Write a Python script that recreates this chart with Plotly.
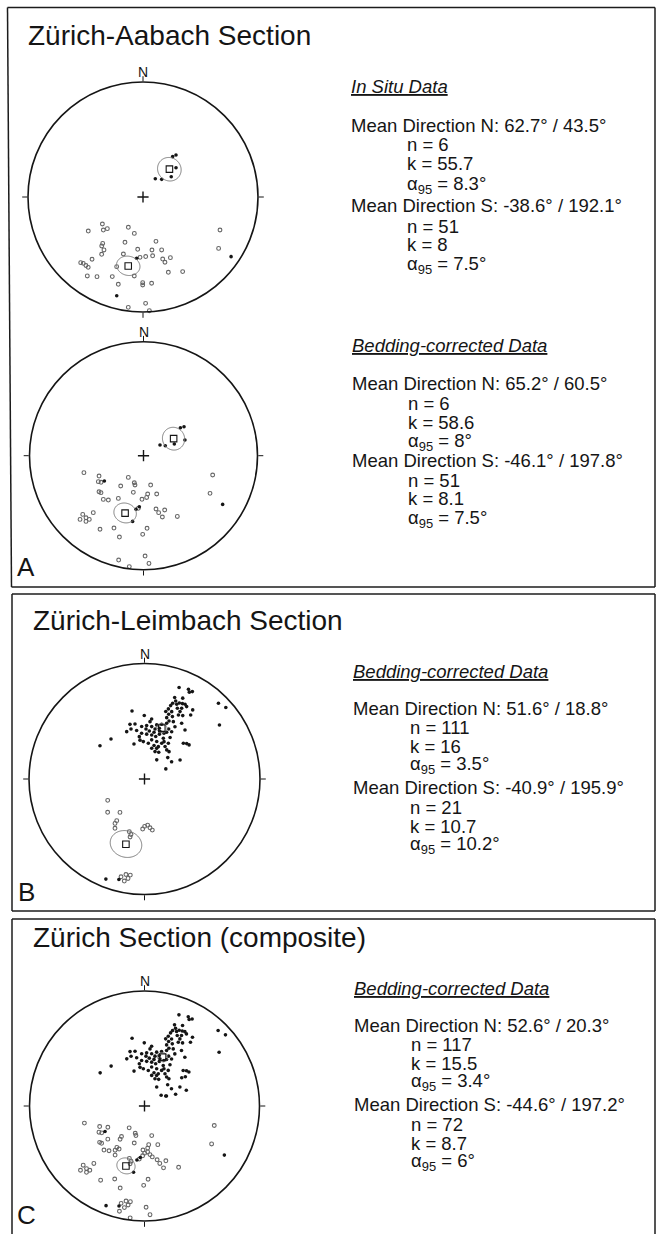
import numpy as np
import plotly.graph_objects as go

W, H = 656, 1234
FONT = "Liberation Sans"
INK = "#151515"

# ---------------- data (declination / inclination in degrees) ----------------
# Panel A, Zürich-Aabach, in situ (first 6 = N group)
a1_dec = [36.3, 38.2, 48.4, 33.9, 46.6, 54.3,
          236.4, 238.1, 230.2, 228.4, 205.8, 193.4, 201.7, 163.7, 221.0, 220.1,
          216.4, 215.8, 199.0, 185.8, 170.4, 160.6, 185.9, 182.8, 177.4, 170.7,
          162.4, 161.4, 155.7, 219.3, 223.5, 222.0, 219.8, 217.9, 200.7, 215.2,
          210.0, 201.1, 186.3, 161.4, 152.0, 195.8, 180.2, 180.2, 174.3, 113.2,
          124.2, 124.1, 194.9, 187.6, 178.6, 176.8]
a1_inc = [54.1, 51.7, 58.5, 74.4, 71.8, 65.3,
          -55.1, -43.3, -53.0, -55.9, -66.1, -63.4, -55.1, -57.0, -45.6, -43.6,
          -42.3, -38.5, -46.5, -52.3, -51.4, -49.6, 45.5, -46.4, -47.0, -47.0,
          -42.8, -39.9, -41.7, -30.7, -22.4, -23.4, -23.5, -23.5, -35.5, -17.1,
          -21.1, -26.7, -31.5, -31.5, -27.4, -22.2, -26.4, -24.5, -25.6, -28.0,
          -21.6, 8.3, 12.2, -3.6, -8.3, -1.1]

# Panel A, Zürich-Aabach, bedding-corrected
a2_dec = [52.8, 54.4, 69.3, 57.1, 65.4, 69.3,
          254.1, 245.4, 240.1, 237.9, 237.1, 215.0, 217.0, 198.8, 196.2, 166.3,
          231.0, 229.0, 195.5, 161.0, 173.8, 175.7, 222.6, 218.4, 210.5, 182.0,
          184.7, 185.6, 188.0, 166.8, 165.1, 158.7, 162.9, 150.9, 221.4, 226.0,
          222.8, 224.9, 220.4, 221.2, 189.4, 210.6, 202.2, 196.5, 177.2, 180.6,
          193.4, 179.1, 177.1, 187.3, 105.6, 119.5, 121.6]
a2_inc = [56.6, 54.0, 58.1, 76.0, 72.9, 66.4,
          -44.8, -54.7, -52.3, -53.8, 56.4, -71.1, -62.8, -69.6, -68.2, -68.4,
          -48.4, -49.1, -62.7, -60.9, -62.3, -59.9, -46.8, -48.9, -54.2, -58.6,
          53.0, -51.7, 50.8, -50.3, -47.1, -47.6, -43.1, -38.9, -33.8, -26.8,
          -26.7, -22.2, -27.5, -24.4, 41.2, -26.0, -32.0, -26.5, -36.4, -31.6,
          -6.6, -13.0, -6.0, -2.2, -37.1, -33.4, 19.6]

# Panel B, Zürich-Leimbach, bedding-corrected
b_dec = [20.7, 26.1, 27.3, 28.7, 20.3, 21.8, 20.4, 23.3, 24.6, 26.7, 28.5, 19.6,
         18.8, 24.9, 27.7, 27.8, 34.9, 349.6, 17.5, 20.5, 35.8, 31.1, 359.8, 19.9,
         24.1, 6.8, 345.1, 350.2, 2.3, 7.8, 12.7, 21.7, 22.9, 33.7, 344.9, 350.8,
         1.7, 5.7, 11.9, 16.3, 25.8, 39.6, 25.4, 356.4, 2.8, 9.3, 14.8, 18.4,
         24.8, 31.7, 320.1, 343.3, 353.4, 358.2, 10.4, 18.1, 6.1, 306.8, 15.9, 23.2,
         32.4, 33.7, 47.4, 50.0, 52.6, 21.0, 28.0, 37.4, 41.9, 32.6, 57.5, 61.8,
         64.7, 44.3, 48.7, 54.2, 18.1, 23.1, 17.4, 11.5, 29.9, 26.7, 30.2, 27.9,
         22.0, 30.2, 25.3, 21.6, 25.7, 13.2, 353.0, 339.4, 356.9, 5.5, 27.6, 47.4,
         239.9, 227.9, 216.3, 213.7, 213.6, 182.1, 179.8, 176.1, 173.6, 171.3, 193.7,
         194.0, 201.1, 194.3, 193.5, 191.0, 188.4, 189.4, 191.2, 210.9, 196.1]
b_inc = [16.4, 14.6, 16.5, 14.8, 25.7, 28.1, 30.7, 30.2, 28.4, 27.8, 27.3, 33.0,
         36.1, 32.9, 31.4, 34.4, 27.9, 39.9, 38.7, 39.9, 32.2, 36.1, 44.3, 42.9,
         40.5, 46.6, 49.5, 50.0, 51.8, 52.2, 50.3, 46.9, 44.6, 41.6, 53.0, 55.0,
         54.3, 55.6, 53.5, 52.2, 50.2, 44.2, 53.1, 57.4, 58.1, 58.3, 58.8, 56.4,
         58.1, 55.3, 52.7, 64.1, 62.3, 63.5, 61.8, 62.1, 64.6, 50.2, 65.4, 65.1,
         62.8, 59.5, 52.3, 50.6, 49.8, 69.3, 68.6, 64.1, 64.0, 74.0, 67.3, 61.4,
         73.4, 9.2, 7.0, 21.1, 54.5, 54.6, 48.9, 56.0, 51.0, 43.7, 46.5, 37.3,
         37.2, 28.3, 23.6, 66.7, 61.9, 67.7, 59.7, 53.9, 52.5, 48.7, 60.1, 67.7,
         -59.8, -54.6, -60.6, -54.3, -51.9, -54.3, -56.3, -57.1, -55.0, -53.1, -49.1,
         -47.1, 7.9, 11.2, -14.0, -16.9, -17.0, -13.8, -10.9, -48.8, -50.8]

# Panel C, composite = Aabach (bedding-corrected) + Leimbach
c_dec = a2_dec + b_dec
c_inc = a2_inc + b_inc

# statistics (order: A in situ, A bedding, B, C)
mean_n_inc = [62.7, 65.2, 51.6, 52.6]
mean_n_dec = [43.5, 60.5, 18.8, 20.3]
n_n = [6, 6, 111, 117]
k_n = ["55.7", "58.6", "16", "15.5"]
a95_n = [8.3, 8, 3.5, 3.4]
mean_s_inc = [-38.6, -46.1, -40.9, -44.6]
mean_s_dec = [192.1, 197.8, 195.9, 197.2]
n_s = [51, 51, 21, 72]
k_s = ["8", "8.1", "10.7", "8.7"]
a95_s = [7.5, 7.5, 10.2, 6]
headers = ["In Situ Data", "Bedding-corrected Data", "Bedding-corrected Data", "Bedding-corrected Data"]
titles = ["Zürich-Aabach Section", "Zürich-Leimbach Section", "Zürich Section (composite)"]
panel_letters = ["A", "B", "C"]

# ---------------- layout geometry (pixels) ----------------
nets = [  # centre x, centre y, radius
    (143.0, 197.0, 115.0),
    (143.5, 455.7, 114.0),
    (144.5, 779.0, 115.5),
    (144.5, 1106.0, 115.0),
]
net_data = [(a1_dec, a1_inc), (a2_dec, a2_inc), (b_dec, b_inc), (c_dec, c_inc)]
text_x = [351, 352, 353, 354]
indent_x = [407, 408, 410, 411]
header_base = [92.7, 351.7, 677.3, 994.3]
line_base = [
    [131.7, 151.0, 170.0, 189.3, 211.7, 232.3, 250.7, 270.0],
    [390.0, 409.3, 428.3, 446.7, 466.7, 486.7, 505.0, 523.3],
    [715.0, 733.3, 752.7, 770.0, 794.0, 813.3, 832.7, 850.0],
    [1032.0, 1050.3, 1069.7, 1087.0, 1111.0, 1130.3, 1149.7, 1167.0],
]
title_pos = [(28, 45), (33, 630), (33, 947)]
letter_pos = [(16.5, 576), (18, 900.5), (17, 1224)]


def px_x(x):
    return x / W


def px_y(y):
    return 1 - y / H


def ea(inc):
    inc = np.abs(np.asarray(inc, float))
    return np.sqrt(2) * np.sin(np.radians(90 - inc) / 2)


def small_circle(dec, inc, a95, n=121):
    d, i = np.radians(dec), np.radians(inc)
    m = np.array([np.cos(i) * np.cos(d), np.cos(i) * np.sin(d), np.sin(i)])
    u = np.array([-np.sin(i) * np.cos(d), -np.sin(i) * np.sin(d), np.cos(i)])
    v = np.cross(m, u)
    t = np.linspace(0, 2 * np.pi, n)
    a = np.radians(a95)
    p = np.cos(a) * m[:, None] + np.sin(a) * (np.cos(t) * u[:, None] + np.sin(t) * v[:, None])
    decs = np.degrees(np.arctan2(p[1], p[0])) % 360
    incs = np.degrees(np.arcsin(np.clip(p[2], -1, 1)))
    return decs, incs


def fmt(v):
    return f"{v:g}"


fig = go.Figure()
layout_polars = {}
annotations = []
FS = 18.5


def add_text(x, baseline, text, size, xanchor="left"):
    annotations.append(dict(
        x=px_x(x), y=px_y(baseline - 0.905 * size), xref="paper", yref="paper",
        xanchor=xanchor, yanchor="top", text=text, showarrow=False, borderpad=0, borderwidth=0,
        font=dict(family=FONT, size=size, color=INK), align="left"))


for idx, ((cx, cy, R), (decs, incs)) in enumerate(zip(nets, net_data)):
    name = "polar" if idx == 0 else f"polar{idx + 1}"
    decs = np.asarray(decs, float)
    incs = np.asarray(incs, float)
    down = incs >= 0
    # upper hemisphere: open circles
    fig.add_trace(go.Scatterpolar(
        r=ea(incs[~down]), theta=decs[~down], mode="markers", subplot=name,
        marker=dict(symbol="circle-open", size=3.8, color="#666666", line=dict(width=1.1, color="#666666")),
        showlegend=False, hoverinfo="skip"))
    # lower hemisphere: filled dots
    fig.add_trace(go.Scatterpolar(
        r=ea(incs[down]), theta=decs[down], mode="markers", subplot=name,
        marker=dict(symbol="circle", size=3.6, color=INK),
        showlegend=False, hoverinfo="skip"))
    # alpha95 circles
    for md, mi, a in ((mean_n_dec[idx], mean_n_inc[idx], a95_n[idx]),
                      (mean_s_dec[idx], mean_s_inc[idx], a95_s[idx])):
        sd, si = small_circle(md, mi, a)
        fig.add_trace(go.Scatterpolar(
            r=ea(si), theta=sd, mode="lines", subplot=name,
            line=dict(color="#7a7a7a", width=1), showlegend=False, hoverinfo="skip"))
    # mean directions
    fig.add_trace(go.Scatterpolar(
        r=ea([mean_n_inc[idx], mean_s_inc[idx]]), theta=[mean_n_dec[idx], mean_s_dec[idx]],
        mode="markers", subplot=name,
        marker=dict(symbol="square-open", size=6.5, color=INK, line=dict(width=1.1, color=INK)),
        showlegend=False, hoverinfo="skip"))
    # centre cross
    fig.add_trace(go.Scatterpolar(
        r=[0], theta=[0], mode="markers", subplot=name,
        marker=dict(symbol="cross-thin", size=8, color=INK, line=dict(width=1.4, color=INK)),
        showlegend=False, hoverinfo="skip"))

    layout_polars[name] = dict(
        domain=dict(x=[px_x(cx - R), px_x(cx + R)], y=[px_y(cy + R), px_y(cy - R)]),
        bgcolor="rgba(0,0,0,0)",
        radialaxis=dict(range=[0, 1], visible=False, showgrid=False),
        angularaxis=dict(rotation=90, direction="clockwise", showgrid=False, showline=True,
                         linecolor=INK, linewidth=1.6, ticks="outside", ticklen=5, tickwidth=1.2,
                         tickcolor=INK, tickmode="array", tickvals=[0, 90, 180, 270],
                         showticklabels=False),
    )
    # north label
    add_text(cx, cy - R - 5, "N", 14, xanchor="center")

for idx in range(4):
    add_text(text_x[idx], header_base[idx], f"<i><u>{headers[idx]}</u></i>", FS)
    lines = [
        (text_x[idx], f"Mean Direction N: {fmt(mean_n_inc[idx])}° / {fmt(mean_n_dec[idx])}°"),
        (indent_x[idx], f"n = {n_n[idx]}"),
        (indent_x[idx], f"k = {k_n[idx]}"),
        (indent_x[idx], f"α<sub>95</sub> = {fmt(a95_n[idx])}°"),
        (text_x[idx], f"Mean Direction S: {fmt(mean_s_inc[idx])}° / {fmt(mean_s_dec[idx])}°"),
        (indent_x[idx], f"n = {n_s[idx]}"),
        (indent_x[idx], f"k = {k_s[idx]}"),
        (indent_x[idx], f"α<sub>95</sub> = {fmt(a95_s[idx])}°"),
    ]
    for (x, t), b in zip(lines, line_base[idx]):
        add_text(x, b, t, FS)

for (x, b), t in zip(title_pos, titles):
    add_text(x, b, t, 28)
for (x, b), t in zip(letter_pos, panel_letters):
    add_text(x, b, t, 26)

# panel frames
shapes = []
frames = [  # left-top x, top y, left-bottom x, bottom y
    (7.5, 7.5, 11.5, 587.0),
    (12.0, 594.0, 12.0, 911.0),
    (12.0, 919.0, 12.0, 1240.0),
]
RIGHT = 655.0
for xt, yt, xb, yb in frames:
    line = dict(color="#1c1c1c", width=1.5)
    shapes.append(dict(type="line", xref="paper", yref="paper", x0=px_x(xt), y0=px_y(yt),
                       x1=px_x(RIGHT), y1=px_y(yt), line=line))
    shapes.append(dict(type="line", xref="paper", yref="paper", x0=px_x(xb), y0=px_y(yb),
                       x1=px_x(RIGHT), y1=px_y(yb), line=line))
    shapes.append(dict(type="line", xref="paper", yref="paper", x0=px_x(xt), y0=px_y(yt),
                       x1=px_x(xb), y1=px_y(yb), line=line))
    shapes.append(dict(type="line", xref="paper", yref="paper", x0=px_x(RIGHT), y0=px_y(yt),
                       x1=px_x(RIGHT), y1=px_y(yb), line=line))

fig.update_layout(
    width=W, height=H, margin=dict(l=0, r=0, t=0, b=0),
    paper_bgcolor="white", plot_bgcolor="white",
    font=dict(family=FONT, color=INK),
    annotations=annotations, shapes=shapes, showlegend=False,
    **layout_polars,
)

fig.write_html("out.html", config={"displayModeBar": False},
               post_script="document.body.style.margin='0px';document.body.style.overflow='hidden';")
